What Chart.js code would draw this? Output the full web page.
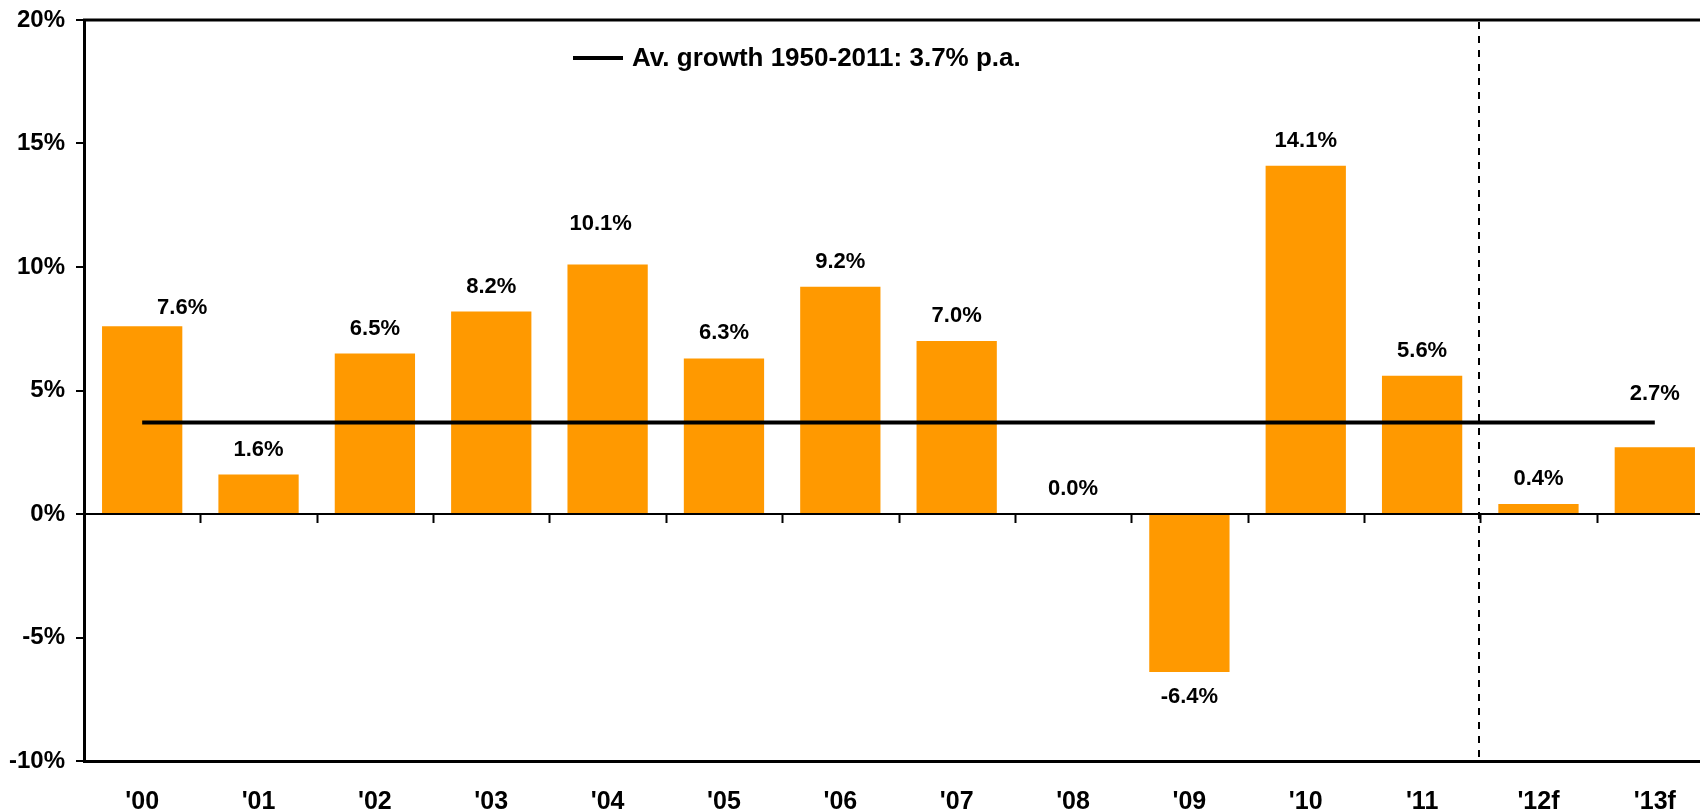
<!DOCTYPE html>
<html>
<head>
<meta charset="utf-8">
<title>Growth p.a.</title>
<script src="https://cdn.jsdelivr.net/npm/chart.js@4.4.0/dist/chart.umd.min.js"></script>
<style>
  html, body { margin: 0; padding: 0; background: #fff; overflow: hidden; }
  #wrap { width: 1716px; height: 809px; }
</style>
</head>
<body>
<div id="wrap"><canvas id="growthChart" width="1716" height="809"></canvas></div>
<script>
// Data
const years = ["'00", "'01", "'02", "'03", "'04", "'05", "'06", "'07", "'08", "'09", "'10", "'11", "'12f", "'13f"];
const growth = [7.6, 1.6, 6.5, 8.2, 10.1, 6.3, 9.2, 7.0, 0.0, -6.4, 14.1, 5.6, 0.4, 2.7];
const avgGrowth = [3.7, 3.7, 3.7, 3.7, 3.7, 3.7, 3.7, 3.7, 3.7, 3.7, 3.7, 3.7, 3.7, 3.7];
const avgLabel = 'Av. growth 1950-2011: 3.7% p.a.';
const yTicks = [-10, -5, 0, 5, 10, 15, 20];
const firstForecast = 12; // '12f

const FONT = '"Liberation Sans", Arial, sans-serif';
const BAR_COLOR = '#FF9900';

// Label tweaks (dx, dy) where the original moved a label by hand
const labelNudge = { 0: [40, 7], 4: [-7, -16], 13: [0, -28] };

// Everything drawn on top: frame, zero line, forecast split, labels, legend
const overlayPlugin = {
  id: 'overlay',
  afterDatasetsDraw(chart) {
    const ctx = chart.ctx;
    const area = chart.chartArea;
    const x = chart.scales.x;
    const y = chart.scales.y;
    const zeroY = y.getPixelForValue(0);
    const boundary = i => (x.getPixelForValue(i - 1) + x.getPixelForValue(i)) / 2;

    ctx.save();
    ctx.strokeStyle = '#000';

    // top frame line
    ctx.lineWidth = 3;
    ctx.beginPath();
    ctx.moveTo(area.left - 1, area.top);
    ctx.lineTo(area.right, area.top);
    ctx.stroke();

    // zero line with ticks between categories
    ctx.lineWidth = 2;
    ctx.beginPath();
    ctx.moveTo(area.left, zeroY);
    ctx.lineTo(area.right, zeroY);
    for (let i = 1; i <= years.length; i++) {
      const bx = Math.round(boundary(i)) + 0.5;
      ctx.moveTo(bx, zeroY);
      ctx.lineTo(bx, zeroY + 9);
    }
    ctx.stroke();

    // dashed split before forecasts
    const sx = Math.round(boundary(firstForecast)) - 1;
    ctx.lineWidth = 2;
    ctx.setLineDash([7, 7]);
    ctx.beginPath();
    ctx.moveTo(sx, area.top + 2);
    ctx.lineTo(sx, area.bottom);
    ctx.stroke();
    ctx.setLineDash([]);

    // value labels
    ctx.fillStyle = '#000';
    ctx.font = 'bold 22px ' + FONT;
    ctx.textAlign = 'center';
    ctx.textBaseline = 'middle';
    const bars = chart.getDatasetMeta(1).data;
    bars.forEach((bar, i) => {
      const v = growth[i];
      const nudge = labelNudge[i] || [0, 0];
      const ly = v < 0 ? bar.y + 25 : bar.y - 25;
      ctx.fillText(v.toFixed(1) + '%', bar.x + nudge[0], ly + nudge[1]);
    });

    // legend for the average line
    ctx.lineWidth = 4;
    ctx.beginPath();
    ctx.moveTo(573, 58);
    ctx.lineTo(623, 58);
    ctx.stroke();
    ctx.textAlign = 'left';
    ctx.font = 'bold 26px ' + FONT;
    ctx.fillText(avgLabel, 632, 59);

    ctx.restore();
  }
};

const ctx = document.getElementById('growthChart').getContext('2d');
new Chart(ctx, {
  data: {
    labels: years,
    datasets: [
      {
        type: 'line',
        label: avgLabel,
        data: avgGrowth,
        borderColor: '#000',
        borderWidth: 4,
        pointRadius: 0,
        order: 0
      },
      {
        type: 'bar',
        label: 'Growth',
        data: growth,
        backgroundColor: BAR_COLOR,
        barPercentage: 0.69,
        categoryPercentage: 1,
        order: 1
      }
    ]
  },
  options: {
    responsive: false,
    animation: false,
    events: [],
    layout: { padding: { top: 20, right: 3, left: 0, bottom: 0 } },
    plugins: {
      legend: { display: false },
      tooltip: { enabled: false }
    },
    scales: {
      x: {
        offset: true,
        grid: { display: false },
        border: { display: true, color: '#000', width: 3 },
        ticks: {
          color: '#000',
          padding: 18,
          maxRotation: 0,
          font: { family: FONT, size: 25, weight: 'bold' }
        },
        afterFit(scale) { scale.height = 48; }
      },
      y: {
        min: -10,
        max: 20,
        afterBuildTicks(scale) { scale.ticks = yTicks.map(v => ({ value: v })); },
        grid: {
          drawOnChartArea: false,
          drawTicks: true,
          tickLength: 8,
          color: '#000',
          lineWidth: 2
        },
        border: { display: true, color: '#000', width: 3 },
        ticks: {
          color: '#000',
          padding: 11,
          font: { family: FONT, size: 24, weight: 'bold' },
          callback: v => v + '%'
        },
        afterFit(scale) {
          scale.width = 84;
          scale.paddingTop = 0;
          scale.paddingBottom = 0;
        }
      }
    }
  },
  plugins: [overlayPlugin]
});
</script>
</body>
</html>
